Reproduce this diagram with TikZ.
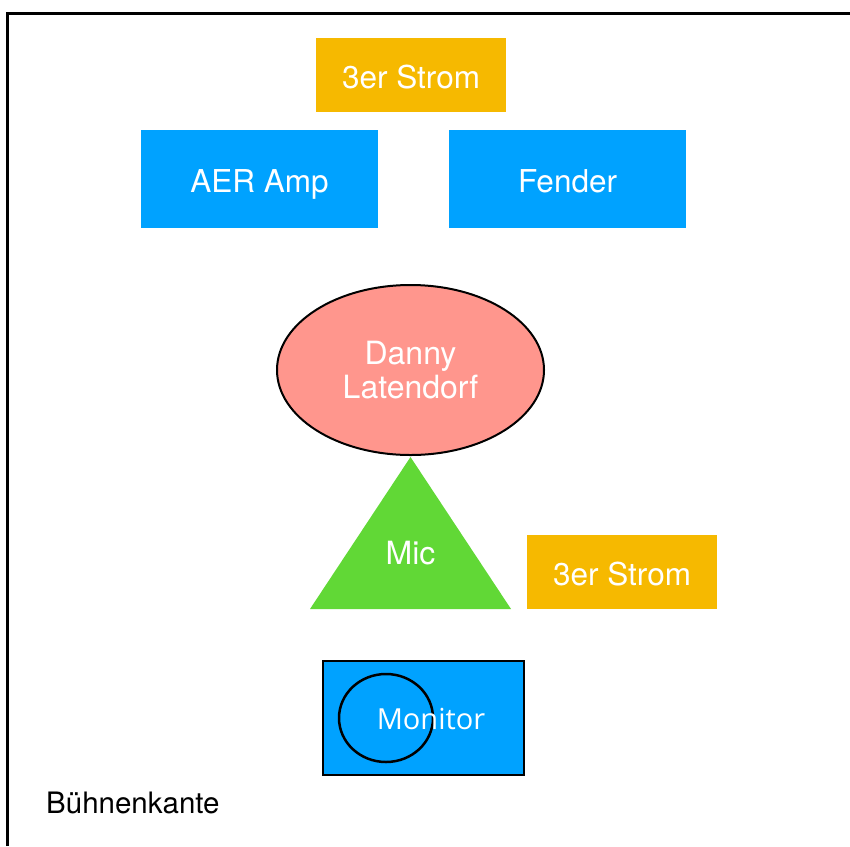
\documentclass[tikz,border=0pt]{standalone}
\usepackage{fontspec}
\setmainfont{TeX Gyre Heros}
\newfontfamily\monfont{Open Sans}
\usetikzlibrary{shapes.geometric}
\definecolor{strom}{HTML}{F6B900}
\definecolor{amp}{HTML}{00A2FF}
\definecolor{danny}{HTML}{FF968D}
\definecolor{mic}{HTML}{61D836}
\tikzset{
	box/.style={rectangle, inner sep=0pt, text=white, text height=26pt, text depth=0pt, font=\fontsize{31.5}{34}\selectfont},
	lbl/.style={inner sep=0pt, font=\fontsize{32}{34.5}\selectfont}
}

\begin{document}
\begin{tikzpicture}[x=1pt, y=-1pt]
			%%%%% START %%%%%
			\useasboundingbox (0, 0) rectangle (850, 846);
			
			\draw[line width=3pt] (7, 846) -- (7, 13) -- (850, 13);
			
			\node[box, fill=strom, minimum width=190pt, minimum height=74pt] (strom1) at (411, 75) {3er Strom};
			\node[box, fill=amp, minimum width=237pt, minimum height=98pt] (aer) at (259.5, 179) {AER Amp};
			\node[box, fill=amp, minimum width=237pt, minimum height=98pt] (fender) at (567.5, 179) {Fender};
			
			\node[ellipse, draw, line width=2pt, fill=danny, minimum width=267pt, minimum height=170pt, inner sep=0pt] (danny) at (410.5, 370) {};
			\node[lbl, text=white, align=center] at (danny) {Danny\\Latendorf};
			
			\fill[mic] (310, 609) -- (410.5, 457) -- (511, 609) -- cycle;
			\node[lbl, text=white] (mic) at (410.5, 553) {Mic};
			
			\node[box, fill=strom, minimum width=190pt, minimum height=74pt] (strom2) at (622, 572) {3er Strom};
			
			\node[box, draw=black, line width=2.5pt, fill=amp, minimum width=201pt, minimum height=114pt] (monitor) at (423.5, 718) {};
			\draw[line width=2.5pt] (386, 718) ellipse (47 and 44);
			\node[lbl, text=white, font=\monfont\fontsize{29}{34}\selectfont] at (431, 719) {Monitor};
			
			\node[lbl, anchor=west, font=\fontsize{29.5}{34}\selectfont] (kante) at (46, 803) {Bühnenkante};
			%%%%% END %%%%%
\end{tikzpicture}
\end{document}
